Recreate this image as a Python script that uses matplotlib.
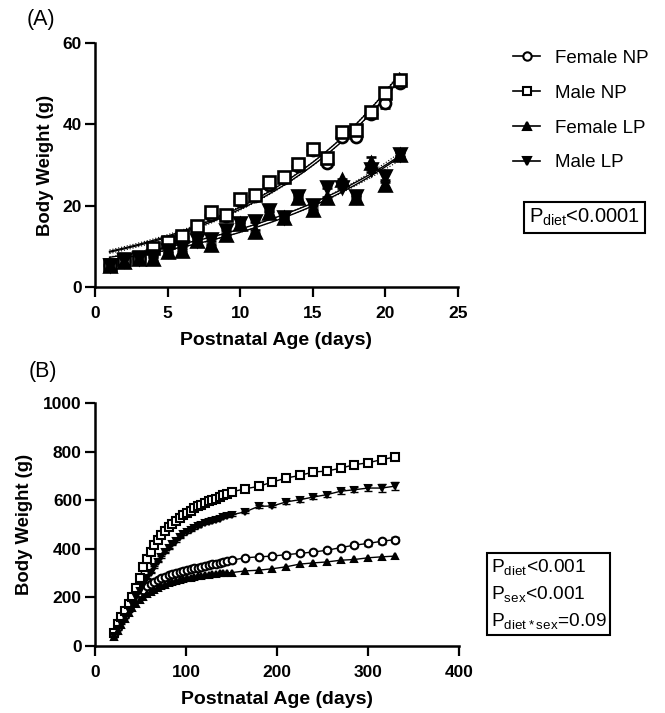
import numpy as np
import matplotlib
matplotlib.use('Agg')
import matplotlib.pyplot as plt
from matplotlib.lines import Line2D

plt.rcParams['font.family'] = ['Liberation Sans', 'DejaVu Sans']
plt.rcParams['mathtext.default'] = 'regular'

# ---------------- Panel A data (days 1-21) ----------------
days_a = list(range(1, 22))
female_np_a = [5.4, 6.4, 7.2, 9.3, 10.7, 12.3, 14.6, 17.8, 17.4, 21.2, 22.3, 25.2, 26.8, 29.8, 33.6, 30.5, 37.0, 37.0, 42.6, 45.3, 50.2]
male_np_a = [5.5, 6.8, 7.5, 9.6, 11.0, 12.6, 14.9, 18.5, 17.8, 21.6, 22.7, 25.8, 27.1, 30.2, 34.0, 31.7, 38.0, 38.7, 43.0, 47.7, 50.9]
female_lp_a = [5.2, 6.2, 6.9, 7.0, 8.6, 8.8, 11.3, 10.3, 12.8, 15.4, 13.6, 18.1, 16.9, 22.0, 18.9, 21.8, 26.3, 22.0, 30.5, 25.1, 32.4]
male_lp_a = [5.4, 6.6, 7.2, 7.6, 9.0, 9.8, 11.6, 11.7, 14.0, 15.8, 16.3, 18.9, 17.2, 22.3, 20.2, 24.7, 24.7, 22.4, 29.0, 27.2, 32.6]
female_np_a_sem = [0.3] * 18 + [0.5, 1.4, 0.8]
male_np_a_sem = [0.3] * 18 + [0.5, 1.2, 0.7]
female_lp_a_sem = [0.3] * 18 + [1.5, 0.8, 0.5]
male_lp_a_sem = [0.3] * 18 + [0.6, 1.0, 0.5]

# ---------------- Panel B data ----------------
days_b = [21, 25, 29, 33, 37, 41, 45, 49, 53, 57, 61, 65, 69, 73, 77, 81, 85, 89, 93,
          97, 101, 105, 109, 113, 117, 121, 125, 129, 133, 137, 141, 145, 150,
          165, 180, 195, 210, 225, 240, 255, 270, 285, 300, 315, 330]
male_np_b = [55, 90, 118, 142, 172, 203, 240, 280, 325, 360, 388, 415, 438, 458, 475, 490, 504, 516, 527,
             538, 547, 557, 566, 575, 582, 589, 595, 601, 606, 614, 621, 627, 634,
             647, 657, 675, 691, 702, 716, 720, 732, 746, 754, 767, 778]
male_lp_b = [42, 70, 95, 120, 148, 175, 200, 225, 250, 278, 302, 325, 347, 367, 385, 402, 418, 432, 447,
             460, 470, 478, 486, 494, 500, 505, 509, 513, 517, 524, 530, 535, 540,
             552, 575, 576, 593, 602, 613, 623, 637, 643, 650, 650, 658]
female_np_b = [50, 80, 105, 128, 152, 175, 198, 218, 232, 245, 255, 264, 272, 280, 286, 292, 297, 301, 305,
               309, 313, 316, 319, 322, 326, 329, 333, 336, 339, 343, 346, 350, 353,
               363, 367, 370, 376, 381, 387, 394, 405, 415, 422, 431, 438]
female_lp_b = [35, 62, 88, 112, 135, 155, 172, 188, 200, 212, 222, 231, 239, 246, 252, 258, 263, 267, 271,
               275, 278, 281, 284, 287, 289, 291, 293, 295, 297, 299, 300, 301, 302,
               309, 312, 318, 326, 337, 342, 346, 353, 356, 363, 367, 370]
male_lp_b_sem = [3] * 33 + [5, 6, 6, 7, 8, 8, 9, 10, 11, 13, 15, 15]
female_np_b_sem = [2] * 33 + [4, 5, 5, 5, 6, 6, 7, 7, 8, 9, 10, 11]

labels = ['Female NP', 'Male NP', 'Female LP', 'Male LP']
markers = ['o', 's', '^', 'v']
fills = ['white', 'white', 'black', 'black']

W, H = 665, 713
fig = plt.figure(figsize=(W / 100, H / 100), dpi=100)
axA = fig.add_axes([95 / W, 1 - 287 / H, 363 / W, 244 / H])
axB = fig.add_axes([95 / W, 1 - 646 / H, 364 / W, 243 / H])


def style(ax):
    for s in ['top', 'right']:
        ax.spines[s].set_visible(False)
    for s in ['left', 'bottom']:
        ax.spines[s].set_linewidth(1.8)
    ax.tick_params(direction='out', length=7, width=1.6, labelsize=12.5)
    ax.tick_params(axis='x', pad=6.5)
    ax.tick_params(axis='y', pad=2.5)
    for t in ax.get_xticklabels() + ax.get_yticklabels():
        t.set_fontweight('bold')


def exp_fit(x, y):
    x = np.asarray(x, float)
    y = np.asarray(y, float)
    best = None
    for b in np.linspace(0.01, 0.3, 3000):
        e = np.exp(b * x)
        a = np.sum(y * e) / np.sum(e * e)
        r = np.sum((y - a * e) ** 2)
        if best is None or r < best[0]:
            best = (r, a, b)
    r, a, b = best
    J = np.column_stack([np.exp(b * x), a * x * np.exp(b * x)])
    s2 = r / (len(x) - 2)
    cov = s2 * np.linalg.inv(J.T @ J)
    return a, b, cov


xs = np.linspace(1, 21, 200)
series_a = [female_np_a, male_np_a, female_lp_a, male_lp_a]
sems_a = [female_np_a_sem, male_np_a_sem, female_lp_a_sem, male_lp_a_sem]

# fit curves
for y in series_a:
    a, b, cov = exp_fit(days_a, y)
    axA.plot(xs, a * np.exp(b * xs), color='black', lw=1.0, zorder=2)
for pair in [(female_np_a, male_np_a), (female_lp_a, male_lp_a)]:
    xx = days_a + days_a
    yy = pair[0] + pair[1]
    a, b, cov = exp_fit(xx, yy)
    yfit = a * np.exp(b * xs)
    Jg = np.column_stack([np.exp(b * xs), a * xs * np.exp(b * xs)])
    se = np.sqrt(np.einsum('ij,jk,ik->i', Jg, cov, Jg))
    band = 2.02 * se * 0.6
    axA.plot(xs, yfit + band, color='black', lw=0.8, ls=':', zorder=2)
    axA.plot(xs, yfit - band, color='black', lw=0.8, ls=':', zorder=2)

for y, e, m, f in zip(series_a, sems_a, markers, fills):
    axA.errorbar(days_a, y, yerr=e, fmt=m, ms=8, mfc=f, mec='black', mew=1.9,
                 ecolor='black', elinewidth=1.2, capsize=3.5, capthick=1.2, zorder=3)

axA.set_xlim(0, 25)
axA.set_ylim(0, 60)
axA.set_xticks([0, 5, 10, 15, 20, 25])
axA.set_yticks([0, 20, 40, 60])
axA.set_xlabel('Postnatal Age (days)', fontsize=14, fontweight='bold', labelpad=8)
axA.set_ylabel('Body Weight (g)', fontsize=13.3, fontweight='bold', labelpad=6)
style(axA)

# Panel B
series_b = [female_np_b, male_np_b, female_lp_b, male_lp_b]
msz = [5.5, 5.5, 5.0, 5.0]
for y, m, f, s in zip(series_b, markers, fills, msz):
    axB.plot(days_b, y, marker=m, ms=s, mfc=f, mec='black', mew=1.5, color='black', lw=1.0, zorder=3)
axB.errorbar(days_b, male_lp_b, yerr=male_lp_b_sem, fmt='none', ecolor='black',
             elinewidth=1.0, capsize=3, capthick=1.0, zorder=2)
axB.errorbar(days_b, female_np_b, yerr=female_np_b_sem, fmt='none', ecolor='black',
             elinewidth=1.0, capsize=3, capthick=1.0, zorder=2)
axB.set_xlim(0, 400)
axB.set_ylim(0, 1000)
axB.set_xticks([0, 100, 200, 300, 400])
axB.set_yticks([0, 200, 400, 600, 800, 1000])
axB.set_xlabel('Postnatal Age (days)', fontsize=14, fontweight='bold', labelpad=8)
axB.set_ylabel('Body Weight (g)', fontsize=13.3, fontweight='bold', labelpad=7.5)
style(axB)

# Legend
handles = [Line2D([], [], color='black', lw=1.2, marker=m, ms=6, mfc=f, mec='black', mew=1.5)
           for m, f in zip(markers, fills)]
fig.legend(handles, labels, loc='center left', bbox_to_anchor=(513 / W, 1 - 110.5 / H),
           frameon=False, fontsize=13.5, handlelength=1.45, handletextpad=0.8,
           labelspacing=0.95, borderpad=0, borderaxespad=0)

# panel labels
fig.text(27 / W, 1 - 19 / H, '(A)', fontsize=15.5, va='center', ha='left')
fig.text(29 / W, 1 - 372 / H, '(B)', fontsize=15.5, va='center', ha='left')

# stats boxes
fig.text(584.5 / W, 1 - 217.5 / H, r'P$_{diet}$<0.0001', ha='center', va='center', fontsize=14.5,
         bbox=dict(boxstyle='square,pad=0.25', fc='white', ec='black', lw=1.5))
fig.text(491 / W, 1 - 594 / H, 'P$_{diet}$<0.001\nP$_{sex}$<0.001\nP$_{diet*sex}$=0.09',
         ha='left', va='center', fontsize=13.8, linespacing=1.45,
         bbox=dict(boxstyle='square,pad=0.2', fc='white', ec='black', lw=1.5))

fig.savefig('out.png', dpi=100)
